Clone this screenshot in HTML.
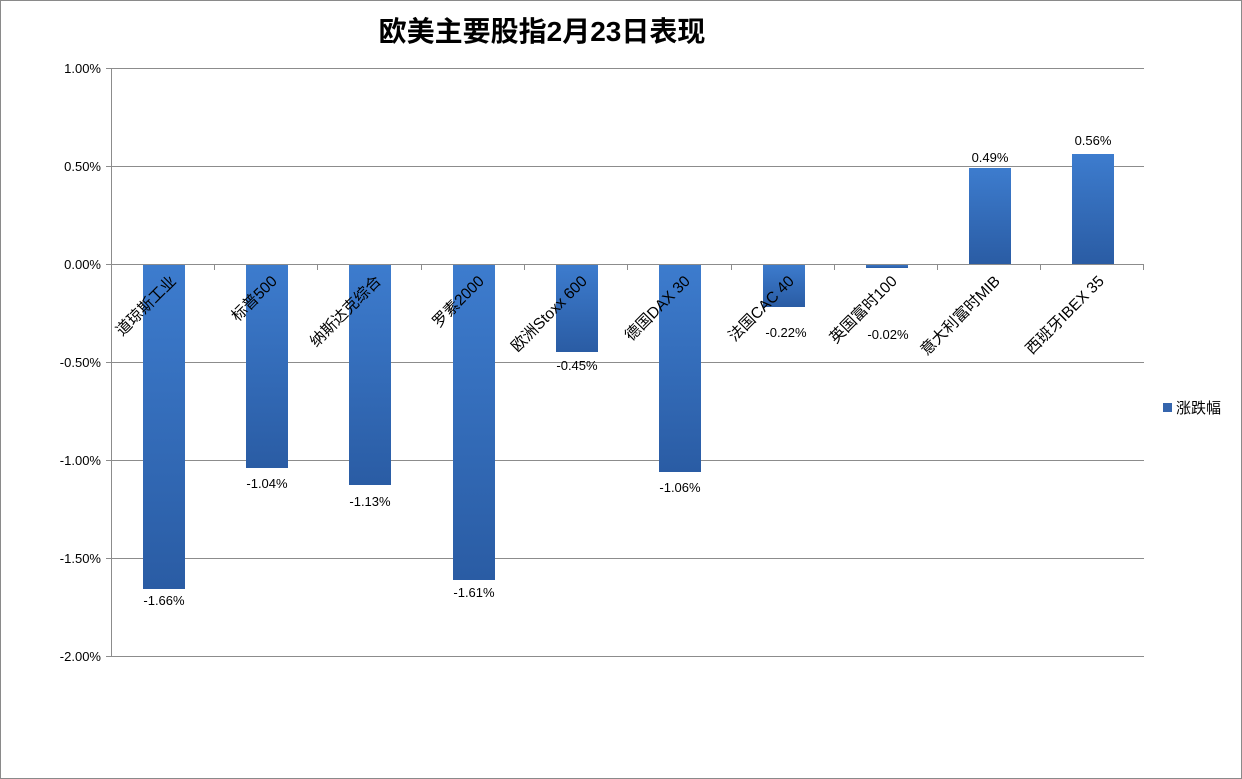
<!DOCTYPE html>
<html><head><meta charset="utf-8"><style>
html,body{margin:0;padding:0;background:#fff}
svg{display:block}
text{font-family:"Liberation Sans","Noto Sans CJK SC",sans-serif}
</style></head><body>
<svg width="1242" height="779" viewBox="0 0 1242 779" xmlns="http://www.w3.org/2000/svg">
<defs>
<linearGradient id="g" x1="0" y1="0" x2="0" y2="1">
<stop offset="0" stop-color="#3d7cce"/><stop offset="1" stop-color="#2a5ca4"/>
</linearGradient>
</defs>
<rect x="0.5" y="0.5" width="1241" height="778" fill="#fff" stroke="#8a8a8a"/>
<text x="542" y="41" font-size="28" font-weight="bold" text-anchor="middle" fill="#000">欧美主要股指2月23日表现</text>
<g stroke="#8c8c8c" stroke-width="1">
<line x1="111" y1="68.5" x2="1144" y2="68.5"/>
<line x1="111" y1="166.5" x2="1144" y2="166.5"/>
<line x1="111" y1="362.5" x2="1144" y2="362.5"/>
<line x1="111" y1="460.5" x2="1144" y2="460.5"/>
<line x1="111" y1="558.5" x2="1144" y2="558.5"/>
<line x1="111" y1="656.5" x2="1144" y2="656.5"/>
<line x1="111.5" y1="68" x2="111.5" y2="657"/>
<line x1="106" y1="68.5" x2="111" y2="68.5"/>
<line x1="106" y1="166.5" x2="111" y2="166.5"/>
<line x1="106" y1="264.5" x2="111" y2="264.5"/>
<line x1="106" y1="362.5" x2="111" y2="362.5"/>
<line x1="106" y1="460.5" x2="111" y2="460.5"/>
<line x1="106" y1="558.5" x2="111" y2="558.5"/>
<line x1="106" y1="656.5" x2="111" y2="656.5"/>
</g>
<g font-size="13" fill="#000" text-anchor="end">
<text x="101" y="73">1.00%</text>
<text x="101" y="171">0.50%</text>
<text x="101" y="269">0.00%</text>
<text x="101" y="367">-0.50%</text>
<text x="101" y="465">-1.00%</text>
<text x="101" y="563">-1.50%</text>
<text x="101" y="661">-2.00%</text>
</g>
<g fill="url(#g)">
<rect x="143" y="264" width="42" height="325"/>
<rect x="246" y="264" width="42" height="204"/>
<rect x="349" y="264" width="42" height="221"/>
<rect x="453" y="264" width="42" height="316"/>
<rect x="556" y="264" width="42" height="88"/>
<rect x="659" y="264" width="42" height="208"/>
<rect x="763" y="264" width="42" height="43"/>
<rect x="866" y="264" width="42" height="4"/>
<rect x="969" y="168" width="42" height="96"/>
<rect x="1072" y="154" width="42" height="110"/>
</g>
<g stroke="#8c8c8c">
<line x1="111" y1="264.5" x2="1144" y2="264.5"/>
<line x1="214.5" y1="264" x2="214.5" y2="270"/>
<line x1="317.5" y1="264" x2="317.5" y2="270"/>
<line x1="421.5" y1="264" x2="421.5" y2="270"/>
<line x1="524.5" y1="264" x2="524.5" y2="270"/>
<line x1="627.5" y1="264" x2="627.5" y2="270"/>
<line x1="731.5" y1="264" x2="731.5" y2="270"/>
<line x1="834.5" y1="264" x2="834.5" y2="270"/>
<line x1="937.5" y1="264" x2="937.5" y2="270"/>
<line x1="1040.5" y1="264" x2="1040.5" y2="270"/>
<line x1="1143.5" y1="264" x2="1143.5" y2="270"/>
</g>
<g font-size="13" fill="#000" text-anchor="middle">
<text x="164" y="605">-1.66%</text>
<text x="267" y="488">-1.04%</text>
<text x="370" y="506">-1.13%</text>
<text x="474" y="597">-1.61%</text>
<text x="577" y="370">-0.45%</text>
<text x="680" y="492">-1.06%</text>
<text x="786" y="337">-0.22%</text>
<text x="888" y="339">-0.02%</text>
<text x="990" y="162">0.49%</text>
<text x="1093" y="145">0.56%</text>
</g>
<g font-size="15.5" fill="#000" text-anchor="end">
<text transform="translate(177,282) rotate(-45)">道琼斯工业</text>
<text transform="translate(278,282) rotate(-45)">标普500</text>
<text transform="translate(382,282) rotate(-45)">纳斯达克综合</text>
<text transform="translate(485,282) rotate(-45)">罗素2000</text>
<text transform="translate(588,282) rotate(-45)">欧洲Stoxx 600</text>
<text transform="translate(691,282) rotate(-45)">德国DAX 30</text>
<text transform="translate(795,282) rotate(-45)">法国CAC 40</text>
<text transform="translate(898,282) rotate(-45)">英国富时100</text>
<text transform="translate(1001,282) rotate(-45)">意大利富时MIB</text>
<text transform="translate(1105,282) rotate(-45)">西班牙IBEX 35</text>
</g>
<rect x="1163" y="403" width="9" height="9" fill="#3565ad"/>
<text x="1176" y="413" font-size="15" fill="#000">涨跌幅</text>
</svg>
</body></html>
